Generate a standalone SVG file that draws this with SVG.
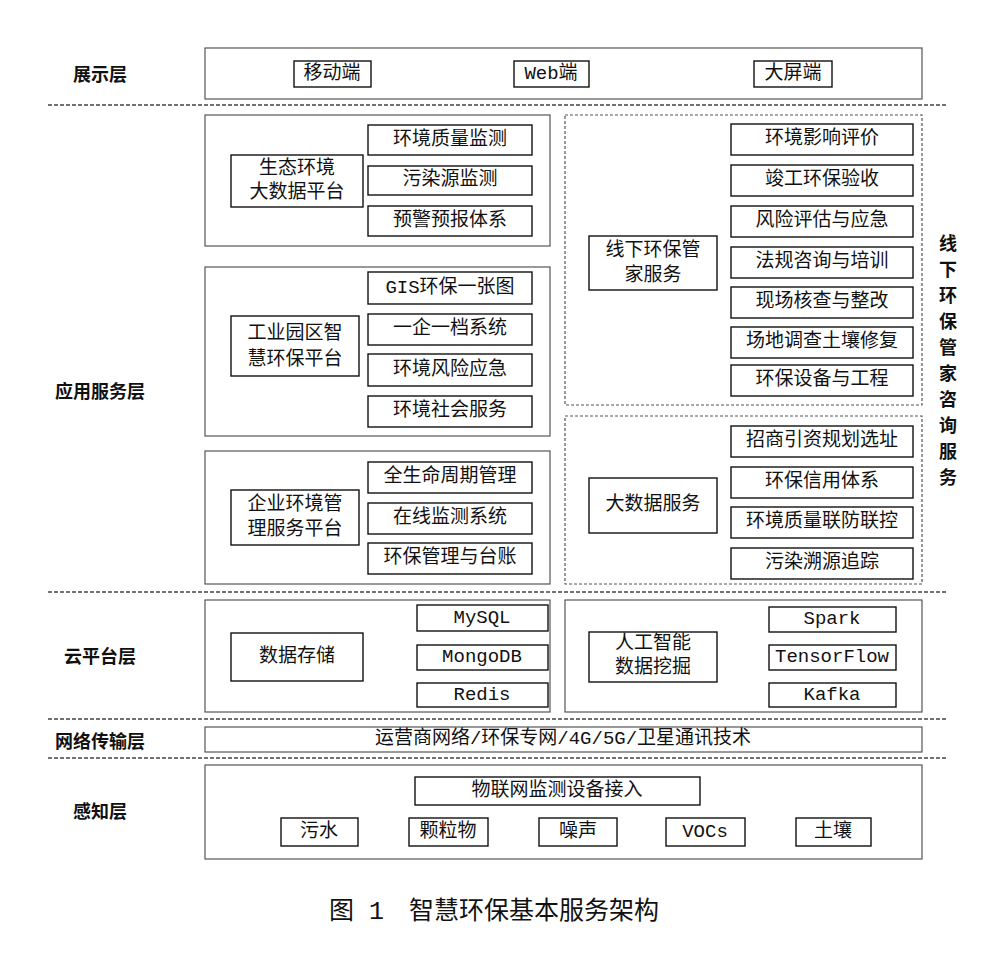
<svg xmlns="http://www.w3.org/2000/svg" width="985" height="972" viewBox="0 0 985 972">
<style>
.o{fill:none;stroke:#555;stroke-width:1.2}
.od{fill:none;stroke:#555;stroke-width:1.2;stroke-dasharray:3,2}
.b{fill:#fff;stroke:#111;stroke-width:1.4}
.sep{stroke:#444;stroke-width:1.5;stroke-dasharray:4,2}
text{font-family:"Liberation Mono","Noto Sans CJK SC",monospace;font-size:19px;fill:#111;text-anchor:middle;dominant-baseline:central}
.L{font-family:"Noto Sans CJK SC",sans-serif;font-weight:bold;font-size:18px}
.cap{font-size:25px}
</style>
<rect width="985" height="972" fill="#fff"/>
<g id="separators">
<line class="sep" x1="48" y1="105" x2="948" y2="105"/>
<line class="sep" x1="48" y1="592" x2="948" y2="592"/>
<line class="sep" x1="48" y1="719" x2="948" y2="719"/>
<line class="sep" x1="48" y1="758" x2="948" y2="758"/>
</g>
<g id="layer-labels">
<text class="L" x="100" y="73">展示层</text>
<text class="L" x="100" y="390">应用服务层</text>
<text class="L" x="100" y="655">云平台层</text>
<text class="L" x="100" y="740">网络传输层</text>
<text class="L" x="100" y="810">感知层</text>
<g class="L"><text class="L" x="948" y="242">线</text><text class="L" x="948" y="268">下</text><text class="L" x="948" y="294">环</text><text class="L" x="948" y="320">保</text><text class="L" x="948" y="346">管</text><text class="L" x="948" y="372">家</text><text class="L" x="948" y="398">咨</text><text class="L" x="948" y="424">询</text><text class="L" x="948" y="450">服</text><text class="L" x="948" y="476">务</text></g>
</g>
<g id="display">
<rect class="o" x="205" y="48" width="717" height="51"/>
<rect class="b" x="294" y="61" width="77" height="26"/><text x="332" y="74">移动端</text>
<rect class="b" x="514" y="61" width="75" height="26"/><text x="551" y="74">Web端</text>
<rect class="b" x="754" y="61" width="78" height="26"/><text x="793" y="74">大屏端</text>
</g>
<g id="eco">
<rect class="o" x="205" y="115" width="345" height="131"/>
<rect class="b" x="231" y="155" width="132" height="52"/><text x="297" y="169">生态环境</text><text x="297" y="193">大数据平台</text>
<rect class="b" x="368" y="125" width="164" height="30"/><text x="450" y="140">环境质量监测</text>
<rect class="b" x="368" y="166" width="164" height="29"/><text x="450" y="180">污染源监测</text>
<rect class="b" x="368" y="206" width="164" height="30"/><text x="450" y="221">预警预报体系</text>
</g>
<g id="park">
<rect class="o" x="205" y="267" width="345" height="169"/>
<rect class="b" x="231" y="316" width="128" height="60"/><text x="295" y="334">工业园区智</text><text x="295" y="360">慧环保平台</text>
<rect class="b" x="368" y="272" width="164" height="32"/><text x="450" y="288">GIS环保一张图</text>
<rect class="b" x="368" y="314" width="164" height="31"/><text x="450" y="329">一企一档系统</text>
<rect class="b" x="368" y="354" width="164" height="32"/><text x="450" y="370">环境风险应急</text>
<rect class="b" x="368" y="396" width="164" height="31"/><text x="450" y="411">环境社会服务</text>
</g>
<g id="enterprise">
<rect class="o" x="205" y="451" width="345" height="133"/>
<rect class="b" x="231" y="490" width="128" height="55"/><text x="295" y="505">企业环境管</text><text x="295" y="530">理服务平台</text>
<rect class="b" x="368" y="462" width="164" height="31"/><text x="450" y="477">全生命周期管理</text>
<rect class="b" x="368" y="503" width="164" height="31"/><text x="450" y="518">在线监测系统</text>
<rect class="b" x="368" y="543" width="164" height="31"/><text x="450" y="558">环保管理与台账</text>
</g>
<g id="offline">
<rect class="od" x="565" y="115" width="357" height="290"/>
<rect class="b" x="589" y="236" width="128" height="54"/><text x="653" y="251">线下环保管</text><text x="653" y="276">家服务</text>
<rect class="b" x="731" y="124" width="182" height="31"/><text x="822" y="139">环境影响评价</text>
<rect class="b" x="731" y="165" width="182" height="31"/><text x="822" y="180">竣工环保验收</text>
<rect class="b" x="731" y="206" width="182" height="31"/><text x="822" y="221">风险评估与应急</text>
<rect class="b" x="731" y="247" width="182" height="31"/><text x="822" y="262">法规咨询与培训</text>
<rect class="b" x="731" y="287" width="182" height="31"/><text x="822" y="302">现场核查与整改</text>
<rect class="b" x="731" y="327" width="182" height="31"/><text x="822" y="342">场地调查土壤修复</text>
<rect class="b" x="731" y="365" width="182" height="31"/><text x="822" y="380">环保设备与工程</text>
</g>
<g id="bigdata">
<rect class="od" x="565" y="416" width="357" height="168"/>
<rect class="b" x="589" y="478" width="128" height="55"/><text x="653" y="505">大数据服务</text>
<rect class="b" x="731" y="426" width="182" height="31"/><text x="822" y="441">招商引资规划选址</text>
<rect class="b" x="731" y="467" width="182" height="31"/><text x="822" y="482">环保信用体系</text>
<rect class="b" x="731" y="507" width="182" height="31"/><text x="822" y="522">环境质量联防联控</text>
<rect class="b" x="731" y="548" width="182" height="31"/><text x="822" y="563">污染溯源追踪</text>
</g>
<g id="storage">
<rect class="o" x="205" y="600" width="345" height="112"/>
<rect class="b" x="231" y="633" width="132" height="48"/><text x="297" y="657">数据存储</text>
<rect class="b" x="417" y="605" width="131" height="26"/><text x="482" y="618">MySQL</text>
<rect class="b" x="417" y="645" width="131" height="25"/><text x="482" y="657">MongoDB</text>
<rect class="b" x="417" y="683" width="131" height="24"/><text x="482" y="695">Redis</text>
</g>
<g id="ai">
<rect class="o" x="565" y="600" width="357" height="112"/>
<rect class="b" x="589" y="632" width="128" height="50"/><text x="653" y="644">人工智能</text><text x="653" y="668">数据挖掘</text>
<rect class="b" x="769" y="607" width="127" height="25"/><text x="832" y="619">Spark</text>
<rect class="b" x="769" y="645" width="127" height="25"/><text x="832" y="657">TensorFlow</text>
<rect class="b" x="769" y="683" width="127" height="24"/><text x="832" y="695">Kafka</text>
</g>
<g id="network">
<rect class="o" x="205" y="727" width="717" height="25"/>
<text x="563" y="739">运营商网络/环保专网/4G/5G/卫星通讯技术</text>
</g>
<g id="perception">
<rect class="o" x="205" y="765" width="717" height="94"/>
<rect class="b" x="415" y="777" width="285" height="28"/><text x="557" y="791">物联网监测设备接入</text>
<rect class="b" x="281" y="818" width="77" height="28"/><text x="319" y="832">污水</text>
<rect class="b" x="409" y="818" width="79" height="28"/><text x="448" y="832">颗粒物</text>
<rect class="b" x="539" y="818" width="78" height="28"/><text x="578" y="832">噪声</text>
<rect class="b" x="666" y="818" width="79" height="28"/><text x="705" y="832">VOCs</text>
<rect class="b" x="796" y="818" width="75" height="28"/><text x="833" y="832">土壤</text>
</g>
<g id="connectors"/>
<text class="cap" x="494" y="912">图 1　智慧环保基本服务架构</text>
</svg>
